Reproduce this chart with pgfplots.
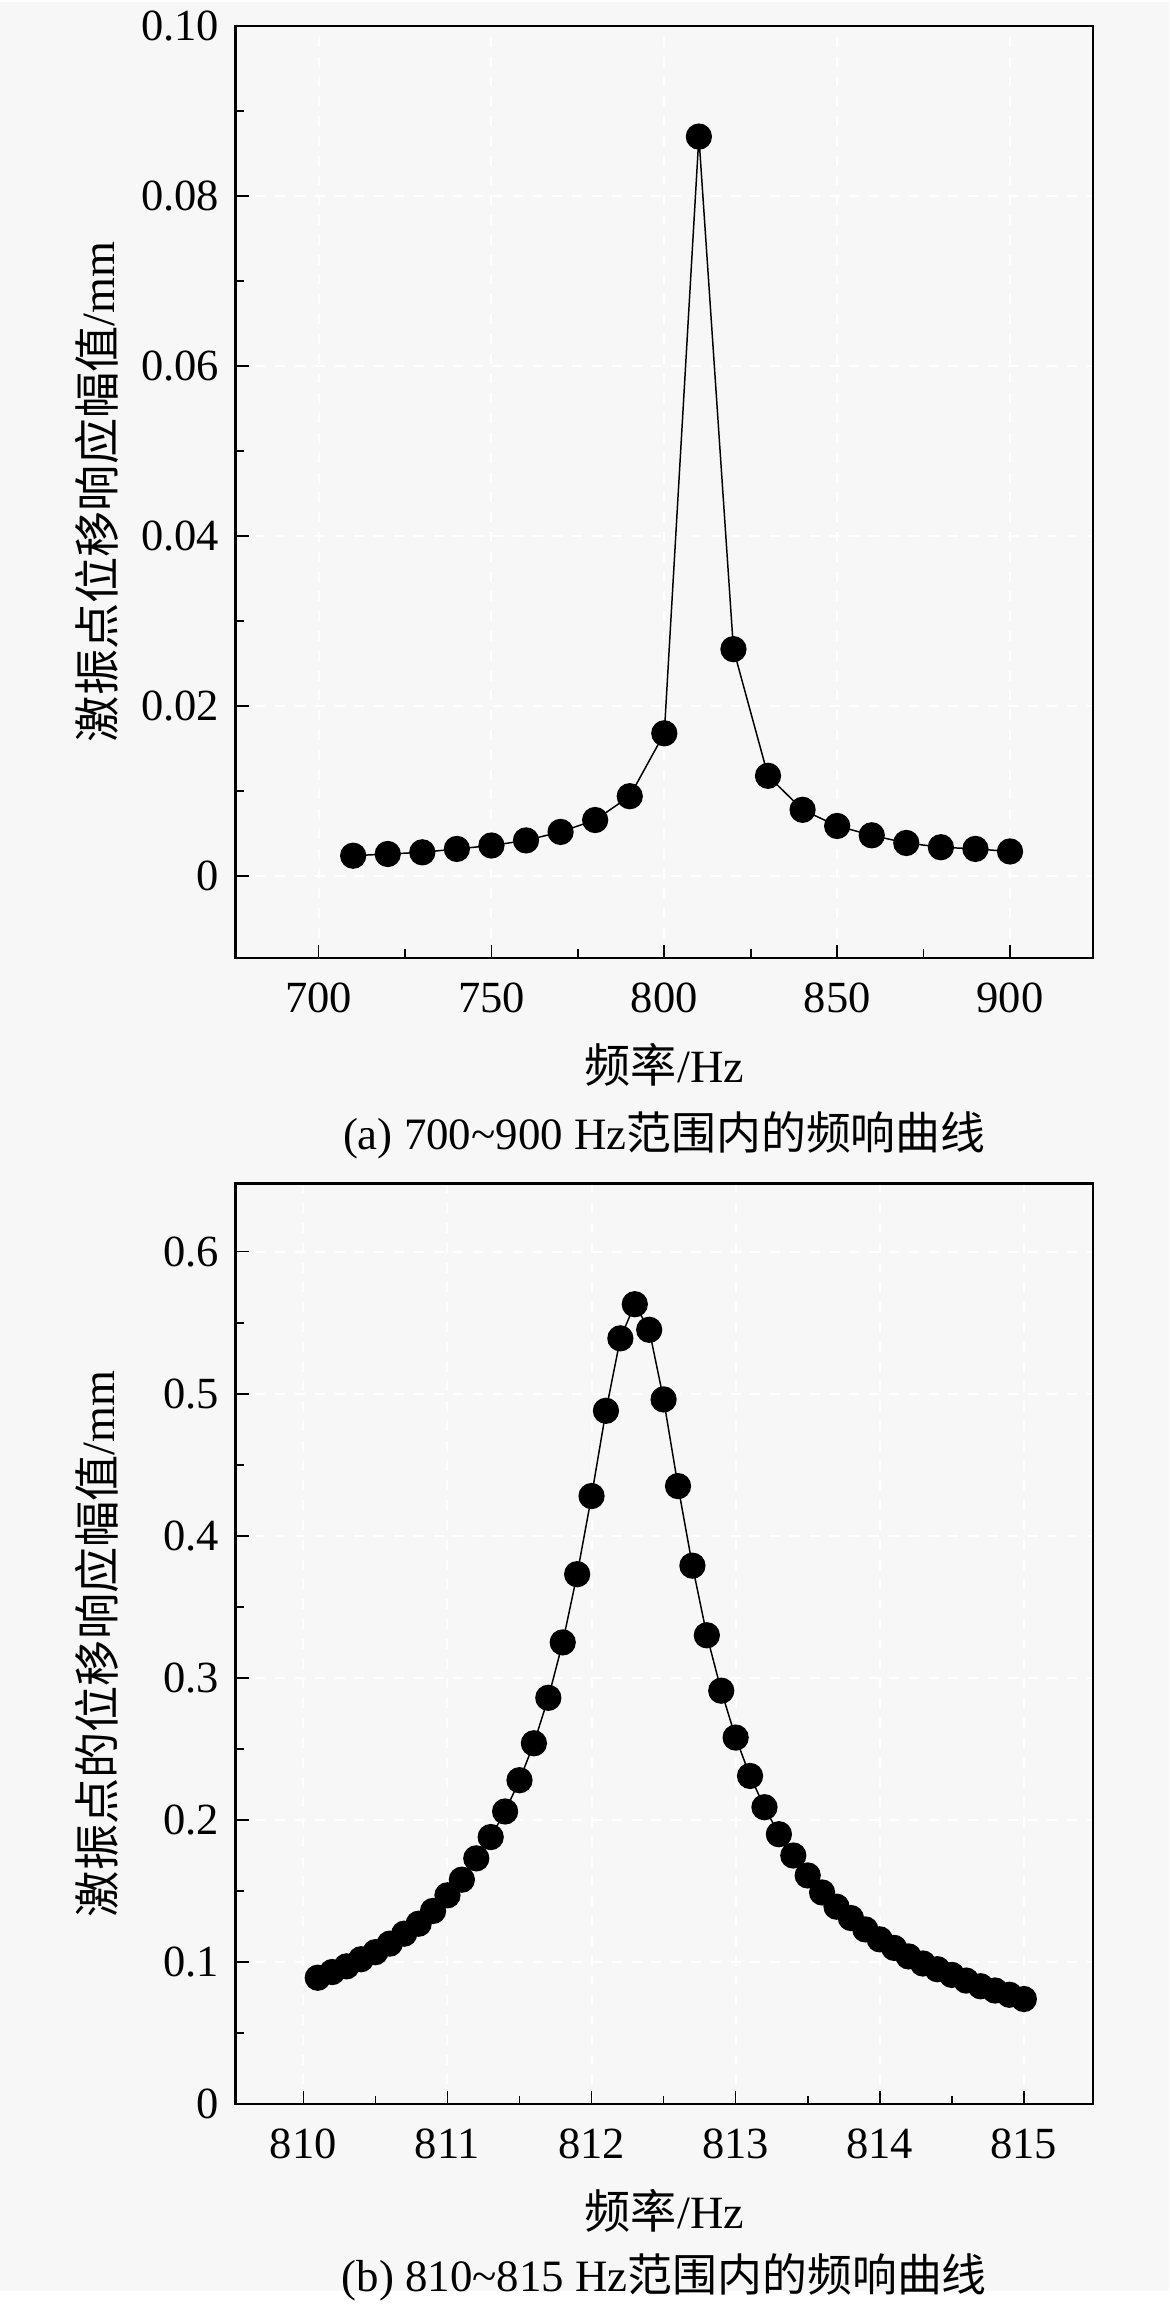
\documentclass[border=0pt]{standalone}
\usepackage{pgfplots}
\pgfplotsset{compat=1.18}
\usepackage{fontspec}
\setmainfont{Liberation Serif}
\newfontfamily\cjk{Noto Sans CJK SC}
\definecolor{bg}{RGB}{247,247,247}

\pgfplotstableread{
f a
710 0.0024
720 0.0026
730 0.0028
740 0.0032
750 0.0036
760 0.0042
770 0.0052
780 0.0066
790 0.0094
800 0.0168
810 0.0870
820 0.0267
830 0.0118
840 0.0078
850 0.0059
860 0.0048
870 0.0039
880 0.0034
890 0.0032
900 0.0029
}\tableA

\pgfplotstableread{
f a
810.1 0.089
810.2 0.093
810.3 0.097
810.4 0.102
810.5 0.107
810.6 0.113
810.7 0.120
810.8 0.127
810.9 0.136
811.0 0.147
811.1 0.158
811.2 0.173
811.3 0.188
811.4 0.206
811.5 0.228
811.6 0.254
811.7 0.286
811.8 0.325
811.9 0.373
812.0 0.428
812.1 0.488
812.2 0.539
812.3 0.563
812.4 0.545
812.5 0.496
812.6 0.435
812.7 0.379
812.8 0.330
812.9 0.291
813.0 0.258
813.1 0.231
813.2 0.209
813.3 0.190
813.4 0.175
813.5 0.161
813.6 0.149
813.7 0.139
813.8 0.131
813.9 0.123
814.0 0.116
814.1 0.110
814.2 0.104
814.3 0.099
814.4 0.095
814.5 0.091
814.6 0.087
814.7 0.083
814.8 0.080
814.9 0.077
815.0 0.074
}\tableB

\pgfplotsset{
  myaxis/.style={
    scale only axis,
    width=259.8pt,
    axis line style={line width=0.7pt},
    tick align=inside,
    xtick pos=bottom, ytick pos=left,
    major tick length=4pt, minor tick length=2.5pt,
    tick style={line width=0.5pt, black},
    grid=major,
    major grid style={white, dashed, line width=0.6pt},
    ticklabel style={font=\fontsize{13.5}{15}\selectfont},
    /pgf/number format/assume math mode=true,
    label style={font=\fontsize{14}{16}\selectfont},
    xticklabel style={yshift=-4pt},
    yticklabel style={xshift=-1.5pt},
  },
  myplot/.style={black, line width=0.45pt, mark=*, mark size=3.75pt, mark options={solid, fill=black}},
}

\begin{document}
\begin{tikzpicture}
\fill[bg] (0,0) rectangle (354.3pt,693.6pt);

\begin{axis}[myaxis,
  at={(71.4pt,404.1pt)}, anchor=south west,
  height=282.3pt,
  xmin=676, xmax=924, ymin=-0.0096, ymax=0.10,
  xtick={700,750,800,850,900},
  minor xtick={725,775,825,875},
  ytick={0,0.02,0.04,0.06,0.08,0.10},
  yticklabels={0,0.02,0.04,0.06,0.08,0.10},
  minor ytick={0.01,0.03,0.05,0.07,0.09},
  xlabel={{\cjk 频率}/Hz},
  xlabel style={at={(axis description cs:0.5,-0.1148)}, anchor=center},
  ylabel={{\cjk 激振点位移响应幅值}/mm},
  ylabel style={at={(axis description cs:-0.1617,0.5)}, anchor=center},
  clip=false,
]
\addplot[myplot] table[x=f, y=a] {\tableA};
\node[font=\fontsize{13.6}{15}\selectfont] at (axis description cs:0.5,-0.191) {(a) 700\textasciitilde900 Hz{\cjk 范围内的频响曲线}};
\end{axis}

\begin{axis}[myaxis,
  at={(71.4pt,56.7pt)}, anchor=south west,
  height=279pt,
  xmin=809.53, xmax=815.48, ymin=0, ymax=0.648,
  xtick={810,811,812,813,814,815},
  xticklabels={810,811,812,813,814,815},
  minor xtick={810.5,811.5,812.5,813.5,814.5},
  ytick={0,0.1,0.2,0.3,0.4,0.5,0.6},
  yticklabels={0,0.1,0.2,0.3,0.4,0.5,0.6},
  minor ytick={0.05,0.15,0.25,0.35,0.45,0.55},
  xlabel={{\cjk 频率}/Hz},
  xlabel style={at={(axis description cs:0.5,-0.116)}, anchor=center},
  ylabel={{\cjk 激振点的位移响应幅值}/mm},
  ylabel style={at={(axis description cs:-0.1617,0.5)}, anchor=center},
  clip=false,
]
\addplot[myplot] table[x=f, y=a] {\tableB};
\node[font=\fontsize{13.6}{15}\selectfont] at (axis description cs:0.5,-0.188) {(b) 810\textasciitilde815 Hz{\cjk 范围内的频响曲线}};
\end{axis}
\end{tikzpicture}
\end{document}
